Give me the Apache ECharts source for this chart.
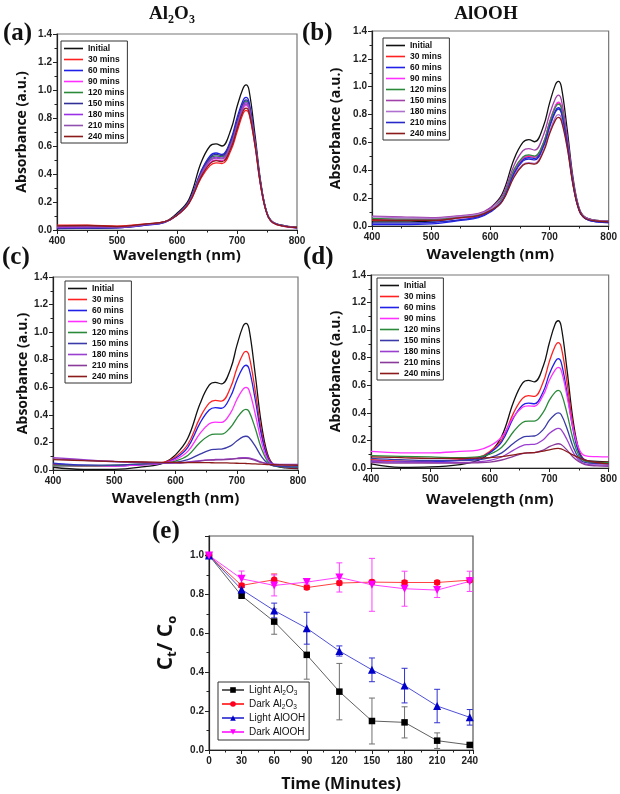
<!DOCTYPE html>
<html><head><meta charset="utf-8">
<script src="https://cdn.jsdelivr.net/npm/echarts/dist/echarts.min.js"></script>
<style>html,body{margin:0;padding:0;background:#fff}#c{width:620px;height:794px}</style>
</head><body><div id="c"></div>
<script>
// ---------- DATA ----------
const wavelengths = [400,450,500,550,580,600,620,640,655,665,675,690,700,710,715,720,730,740,750,760,780,800];
const timeLabels = ['Initial','30 mins','60 mins','90 mins','120 mins','150 mins','180 mins','210 mins','240 mins'];

// (a) Al2O3 light
const specA = [
  [0.020,0.022,0.020,0.040,0.060,0.120,0.220,0.480,0.600,0.615,0.600,0.720,0.880,1.010,1.036,1.000,0.680,0.330,0.120,0.055,0.030,0.020],
  [0.035,0.035,0.028,0.045,0.060,0.105,0.190,0.370,0.460,0.480,0.475,0.570,0.700,0.830,0.855,0.830,0.600,0.300,0.115,0.050,0.025,0.018],
  [0.010,0.012,0.015,0.035,0.055,0.110,0.205,0.420,0.530,0.550,0.540,0.650,0.800,0.925,0.947,0.915,0.640,0.320,0.120,0.055,0.028,0.015],
  [0.015,0.018,0.020,0.038,0.058,0.105,0.195,0.385,0.480,0.500,0.495,0.595,0.730,0.865,0.890,0.860,0.615,0.305,0.115,0.052,0.026,0.015],
  [0.020,0.020,0.020,0.040,0.058,0.108,0.200,0.405,0.510,0.530,0.522,0.625,0.765,0.895,0.920,0.890,0.630,0.315,0.118,0.054,0.028,0.018],
  [0.012,0.014,0.016,0.036,0.056,0.108,0.202,0.412,0.518,0.540,0.532,0.635,0.778,0.905,0.930,0.900,0.635,0.318,0.120,0.055,0.028,0.016],
  [0.018,0.020,0.020,0.040,0.058,0.106,0.198,0.398,0.500,0.520,0.514,0.615,0.752,0.885,0.910,0.880,0.625,0.312,0.117,0.053,0.027,0.017],
  [0.025,0.026,0.022,0.042,0.060,0.106,0.196,0.394,0.494,0.514,0.508,0.608,0.744,0.876,0.900,0.870,0.620,0.310,0.116,0.053,0.027,0.017],
  [0.030,0.032,0.025,0.044,0.060,0.105,0.192,0.378,0.474,0.495,0.488,0.585,0.720,0.848,0.870,0.842,0.608,0.304,0.115,0.052,0.026,0.018]
];
// (b) AlOOH light
const specB = [
  [0.030,0.030,0.035,0.060,0.080,0.130,0.230,0.480,0.600,0.620,0.605,0.720,0.880,1.015,1.039,1.000,0.690,0.340,0.130,0.065,0.040,0.035],
  [0.040,0.040,0.040,0.060,0.070,0.110,0.192,0.395,0.485,0.500,0.494,0.596,0.740,0.860,0.885,0.855,0.612,0.308,0.120,0.058,0.035,0.030],
  [0.010,0.010,0.015,0.040,0.060,0.100,0.180,0.380,0.475,0.490,0.484,0.580,0.718,0.828,0.850,0.822,0.595,0.300,0.115,0.055,0.030,0.025],
  [0.050,0.050,0.045,0.060,0.075,0.110,0.195,0.400,0.490,0.505,0.498,0.600,0.745,0.865,0.890,0.860,0.615,0.310,0.120,0.058,0.035,0.030],
  [0.055,0.050,0.050,0.065,0.080,0.115,0.200,0.405,0.495,0.510,0.502,0.600,0.740,0.852,0.875,0.848,0.610,0.308,0.120,0.060,0.038,0.032],
  [0.070,0.065,0.060,0.075,0.090,0.130,0.215,0.435,0.540,0.555,0.545,0.655,0.800,0.915,0.940,0.905,0.640,0.320,0.125,0.062,0.040,0.035],
  [0.065,0.060,0.055,0.070,0.085,0.120,0.185,0.360,0.442,0.455,0.450,0.545,0.675,0.780,0.800,0.775,0.570,0.292,0.115,0.058,0.038,0.032],
  [0.020,0.020,0.025,0.045,0.065,0.105,0.180,0.375,0.466,0.480,0.475,0.572,0.708,0.818,0.840,0.812,0.590,0.298,0.115,0.055,0.030,0.025],
  [0.045,0.040,0.040,0.060,0.075,0.110,0.175,0.350,0.436,0.450,0.444,0.535,0.660,0.760,0.780,0.756,0.560,0.288,0.113,0.056,0.036,0.030]
];
// (c) Al2O3 dark
const specC = [
  [0.020,0.005,0.005,0.025,0.050,0.110,0.230,0.480,0.615,0.635,0.625,0.735,0.900,1.040,1.064,1.025,0.700,0.340,0.120,0.040,0.015,0.010],
  [0.040,0.030,0.030,0.040,0.055,0.095,0.185,0.380,0.485,0.505,0.500,0.600,0.735,0.840,0.860,0.830,0.580,0.290,0.105,0.040,0.020,0.015],
  [0.050,0.035,0.030,0.040,0.050,0.085,0.165,0.340,0.435,0.452,0.448,0.535,0.650,0.742,0.760,0.735,0.515,0.260,0.095,0.038,0.022,0.018],
  [0.030,0.030,0.030,0.040,0.050,0.075,0.135,0.265,0.335,0.347,0.345,0.415,0.510,0.585,0.600,0.580,0.410,0.210,0.080,0.035,0.025,0.020],
  [0.030,0.030,0.035,0.045,0.050,0.065,0.105,0.200,0.250,0.260,0.260,0.310,0.375,0.430,0.440,0.425,0.305,0.160,0.065,0.030,0.022,0.020],
  [0.045,0.035,0.035,0.045,0.050,0.055,0.075,0.115,0.143,0.150,0.152,0.175,0.210,0.240,0.245,0.236,0.175,0.100,0.050,0.030,0.025,0.022],
  [0.090,0.075,0.062,0.055,0.052,0.052,0.058,0.068,0.074,0.076,0.077,0.080,0.085,0.090,0.090,0.088,0.075,0.058,0.047,0.042,0.040,0.040],
  [0.080,0.070,0.060,0.054,0.050,0.050,0.055,0.065,0.071,0.073,0.074,0.078,0.082,0.085,0.085,0.083,0.070,0.055,0.045,0.040,0.038,0.038],
  [0.075,0.068,0.062,0.058,0.056,0.055,0.054,0.054,0.053,0.052,0.052,0.050,0.049,0.048,0.047,0.046,0.044,0.042,0.040,0.038,0.036,0.034]
];
// (d) AlOOH dark
const specD = [
  [0.030,0.005,0.008,0.025,0.055,0.110,0.230,0.480,0.615,0.635,0.625,0.740,0.905,1.045,1.068,1.030,0.710,0.350,0.130,0.060,0.048,0.045],
  [0.060,0.050,0.050,0.060,0.075,0.120,0.205,0.400,0.505,0.525,0.520,0.625,0.770,0.885,0.910,0.880,0.620,0.310,0.120,0.055,0.040,0.040],
  [0.050,0.045,0.045,0.055,0.070,0.110,0.190,0.365,0.455,0.470,0.466,0.555,0.680,0.772,0.793,0.768,0.545,0.280,0.110,0.055,0.040,0.038],
  [0.120,0.110,0.110,0.120,0.130,0.160,0.225,0.370,0.440,0.450,0.448,0.530,0.635,0.712,0.730,0.710,0.520,0.290,0.140,0.090,0.082,0.080],
  [0.090,0.085,0.080,0.075,0.080,0.100,0.150,0.265,0.330,0.340,0.340,0.405,0.490,0.550,0.563,0.545,0.395,0.210,0.090,0.050,0.040,0.038],
  [0.070,0.060,0.055,0.055,0.060,0.075,0.110,0.180,0.222,0.230,0.232,0.280,0.345,0.390,0.400,0.388,0.285,0.155,0.070,0.040,0.032,0.030],
  [0.050,0.045,0.040,0.040,0.045,0.055,0.080,0.130,0.163,0.170,0.172,0.205,0.250,0.280,0.287,0.278,0.205,0.115,0.055,0.030,0.022,0.020],
  [0.040,0.035,0.035,0.035,0.038,0.042,0.058,0.085,0.104,0.110,0.112,0.130,0.155,0.172,0.176,0.170,0.130,0.080,0.045,0.025,0.015,0.012],
  [0.080,0.075,0.070,0.070,0.072,0.075,0.082,0.095,0.106,0.110,0.112,0.122,0.132,0.140,0.142,0.138,0.118,0.095,0.075,0.058,0.040,0.030]
];

// (e) kinetics
const times = [0,30,60,90,120,150,180,210,240];
const lightAl2O3    = [1.000,0.793,0.660,0.489,0.300,0.149,0.142,0.048,0.026];
const lightAl2O3Err = [0.000,0.010,0.065,0.125,0.145,0.118,0.080,0.040,0.008];
const darkAl2O3     = [1.000,0.846,0.875,0.835,0.858,0.863,0.861,0.861,0.873];
const darkAl2O3Err  = [0.000,0.010,0.030,0.010,0.010,0.010,0.010,0.010,0.010];
const lightAlOOH    = [1.000,0.825,0.717,0.626,0.509,0.412,0.331,0.226,0.168];
const lightAlOOHErr = [0.000,0.010,0.038,0.082,0.026,0.061,0.089,0.086,0.040];
const darkAlOOH     = [1.000,0.880,0.846,0.863,0.887,0.849,0.829,0.822,0.867];
const darkAlOOHErr  = [0.000,0.040,0.054,0.010,0.075,0.136,0.090,0.038,0.052];
const kineticNames  = ['Light Al{s|2}O{s|3}','Dark Al{s|2}O{s|3}','Light AlOOH','Dark AlOOH'];

// ---------- STYLES ----------
const colorsA = ['#111111','#ff2020','#2020e8','#ff30ff','#2a8a3a','#303098','#9a30e8','#9050b0','#8b1a1a'];
const colorsB = ['#111111','#ff2020','#2020e8','#ff30ff','#2a8a3a','#a040a8','#b070d0','#2828c8','#8b1a1a'];
const colorsC = ['#111111','#ff2020','#2020e8','#ff30ff','#2a8a3a','#3a3aa8','#9a3fd0','#8a3a9a','#8b1a1a'];
const colorsD = colorsC;

const FF = '"Liberation Sans", Arial, sans-serif';
const tickLabel = {fontSize:10, fontWeight:'bold', fontFamily:FF, color:'#222'};
const axisLineS = {show:true, onZero:false, lineStyle:{color:'#222', width:1.2}};

function specX(gi, gap){
  return {type:'value', gridIndex:gi, min:400, max:800, interval:100,
    name:'Wavelength (nm)', nameLocation:'middle', nameGap:gap,
    nameTextStyle:{fontFamily:'"Open Sans"', fontWeight:'bold', fontSize:15, color:'#111'},
    axisLine:axisLineS, axisTick:{show:true, inside:false, length:4, lineStyle:{color:'#222'}},
    minorTick:{show:true, splitNumber:2, length:2.5, lineStyle:{color:'#222'}},
    splitLine:{show:false}, minorSplitLine:{show:false},
    axisLabel:Object.assign({margin:6}, tickLabel)};
}
function specY(gi, gap){
  return {type:'value', gridIndex:gi, min:0, max:1.4, interval:0.2,
    name:'Absorbance (a.u.)', nameLocation:'middle', nameGap:gap,
    nameTextStyle:{fontFamily:'"Open Sans"', fontWeight:'bold', fontSize:14, color:'#111'},
    axisLine:axisLineS, axisTick:{show:true, inside:false, length:4, lineStyle:{color:'#222'}},
    minorTick:{show:true, splitNumber:2, length:2.5, lineStyle:{color:'#222'}},
    splitLine:{show:false},
    axisLabel:Object.assign({margin:5, formatter:v=>v.toFixed(1)}, tickLabel)};
}
function spectra(panel, gi, data, colors){
  return data.map((row,k)=>({
    type:'line', name:panel+':'+timeLabels[k], xAxisIndex:gi, yAxisIndex:gi,
    data: wavelengths.map((w,i)=>[w,row[i]]),
    smooth:0.4, symbol:'none', silent:true, animation:false,
    lineStyle:{width:1.3, color:colors[k]}, itemStyle:{color:colors[k]}, z:2
  }));
}
function specLegend(panel, left, top){
  return {orient:'vertical', left:left, top:top, data: timeLabels.map(t=>panel+':'+t),
    formatter:n=>n.slice(2), icon:'rect', itemWidth:19, itemHeight:1.6, itemGap:0, padding:[2,3,1,3],
    borderColor:'#333', borderWidth:1, selectedMode:false,
    textStyle:{fontSize:8.5, fontWeight:'bold', fontFamily:FF, lineHeight:11, color:'#111'}};
}
function errRender(color){
  return function(params, api){
    const x = api.value(0), y = api.value(1), e = api.value(2);
    if (!e) return null;
    const t = api.coord([x, y+e]), b = api.coord([x, y-e]), hw = 3;
    const st = {stroke:color, lineWidth:1};
    return {type:'group', children:[
      {type:'line', shape:{x1:t[0],y1:t[1],x2:b[0],y2:b[1]}, style:st},
      {type:'line', shape:{x1:t[0]-hw,y1:t[1],x2:t[0]+hw,y2:t[1]}, style:st},
      {type:'line', shape:{x1:b[0]-hw,y1:b[1],x2:b[0]+hw,y2:b[1]}, style:st}
    ]};
  };
}
function kin(name, vals, lineColor, markColor, symbol, size, rot){
  return {type:'line', name:name, xAxisIndex:4, yAxisIndex:4,
    data: times.map((t,i)=>[t, vals[i]]), symbol:symbol, symbolSize:size, symbolRotate:rot||0,
    showAllSymbol:true, animation:false, z:5,
    lineStyle:{width:1, color:lineColor}, itemStyle:{color:markColor}};
}
function errSeries(vals, errs, color){
  return {type:'custom', name:'err'+color, xAxisIndex:4, yAxisIndex:4, z:3, animation:false, silent:true,
    renderItem: errRender(color), encode:{x:0, y:1},
    data: times.map((t,i)=>[t, vals[i], errs[i]])};
}

const subRich = {s:{fontSize:12, fontWeight:'bold', fontFamily:'"Liberation Serif"', padding:[12,0,0,0]}};

const option = {
  backgroundColor:'#fff',
  animation:false,
  grid:[
    {left:57, top:34, width:240, height:196, show:true, borderColor:'#777', borderWidth:1.2},
    {left:372, top:31, width:239, height:195, show:true, borderColor:'#777', borderWidth:1.2},
    {left:53, top:277, width:245, height:193, show:true, borderColor:'#777', borderWidth:1.2},
    {left:371, top:275, width:238, height:193, show:true, borderColor:'#777', borderWidth:1.2},
    {left:209, top:536, width:264, height:214, show:true, borderColor:'#555', borderWidth:1.2}
  ],
  xAxis:[
    specX(0, 18), specX(1, 21), specX(2, 21), specX(3, 24),
    {type:'value', gridIndex:4, min:0, max:243, interval:30,
      name:'Time (Minutes)', nameLocation:'middle', nameGap:26,
      nameTextStyle:{fontFamily:'"Open Sans"', fontWeight:'bold', fontSize:16, color:'#111'},
      axisLine:axisLineS, axisTick:{show:true, inside:false, length:4, lineStyle:{color:'#222'}},
      minorTick:{show:true, splitNumber:2, length:2.5, lineStyle:{color:'#222'}},
      splitLine:{show:false}, axisLabel:Object.assign({margin:6, showMaxLabel:false}, tickLabel)}
  ],
  yAxis:[
    specY(0, 28), specY(1, 29), specY(2, 18), specY(3, 28),
    {type:'value', gridIndex:4, min:0, max:1.1, interval:0.2,
      name:'C{s|t}/ C{s|o}', nameLocation:'middle', nameGap:30,
      nameTextStyle:{fontFamily:'"Open Sans"', fontWeight:'bold', fontSize:21, color:'#111',
        rich:{s:{fontFamily:'"Open Sans"', fontWeight:'bold', fontSize:13, color:'#111', padding:[12,0,0,0]}}},
      axisLine:axisLineS, axisTick:{show:true, inside:false, length:4, lineStyle:{color:'#222'}},
      minorTick:{show:true, splitNumber:2, length:2.5, lineStyle:{color:'#222'}},
      splitLine:{show:false},
      axisLabel:Object.assign({margin:5, showMaxLabel:false, formatter:v=>v.toFixed(1)}, tickLabel)}
  ],
  legend:[
    specLegend('a', 61, 41), specLegend('b', 383, 38), specLegend('c', 65, 281), specLegend('d', 377, 278),
    {orient:'vertical', left:218, top:682, data:kineticNames, itemWidth:22, itemHeight:7, itemGap:0,
      padding:[1,4,1,3], borderColor:'#333', borderWidth:1, selectedMode:false,
      textStyle:{fontSize:10, fontFamily:FF, color:'#111', lineHeight:14,
        rich:{s:{fontSize:6.5, fontFamily:FF, color:'#111', padding:[7,0,0,0]}}}}
  ],
  graphic:[
    {type:'text', x:172, y:14, style:{text:'Al{s|2}O{s|3}', fontSize:19, fontWeight:'bold', fontFamily:'"Liberation Serif"', fill:'#111', align:'center', verticalAlign:'middle', rich:subRich}},
    {type:'text', x:486, y:14, style:{text:'AlOOH', fontSize:19, fontWeight:'bold', fontFamily:'"Liberation Serif"', fill:'#111', align:'center', verticalAlign:'middle'}},
    {type:'text', x:3, y:34, style:{text:'(a)', fontSize:25, fontWeight:'bold', fontFamily:'"Liberation Serif"', fill:'#111', align:'left', verticalAlign:'middle'}},
    {type:'text', x:302, y:34, style:{text:'(b)', fontSize:25, fontWeight:'bold', fontFamily:'"Liberation Serif"', fill:'#111', align:'left', verticalAlign:'middle'}},
    {type:'text', x:2, y:258, style:{text:'(c)', fontSize:25, fontWeight:'bold', fontFamily:'"Liberation Serif"', fill:'#111', align:'left', verticalAlign:'middle'}},
    {type:'text', x:303, y:258, style:{text:'(d)', fontSize:25, fontWeight:'bold', fontFamily:'"Liberation Serif"', fill:'#111', align:'left', verticalAlign:'middle'}},
    {type:'text', x:152, y:532, style:{text:'(e)', fontSize:25, fontWeight:'bold', fontFamily:'"Liberation Serif"', fill:'#111', align:'left', verticalAlign:'middle'}}
  ],
  series:[].concat(
    spectra('a', 0, specA, colorsA),
    spectra('b', 1, specB, colorsB),
    spectra('c', 2, specC, colorsC),
    spectra('d', 3, specD, colorsD),
    [
      errSeries(lightAl2O3, lightAl2O3Err, '#707070'),
      errSeries(darkAl2O3, darkAl2O3Err, '#ff4040'),
      errSeries(lightAlOOH, lightAlOOHErr, '#3030d0'),
      errSeries(darkAlOOH, darkAlOOHErr, '#ff40ff'),
      kin(kineticNames[0], lightAl2O3, '#606060', '#000000', 'rect', 6.5),
      kin(kineticNames[1], darkAl2O3, '#ff4040', '#ff0020', 'circle', 6.5),
      kin(kineticNames[2], lightAlOOH, '#5050d8', '#0000c8', 'triangle', 8),
      kin(kineticNames[3], darkAlOOH, '#ff40ff', '#ff00ff', 'triangle', 8, 180)
    ]
  )
};
const chart = echarts.init(document.getElementById('c'), null, {renderer:'canvas'});
chart.setOption(option);
</script></body></html>
